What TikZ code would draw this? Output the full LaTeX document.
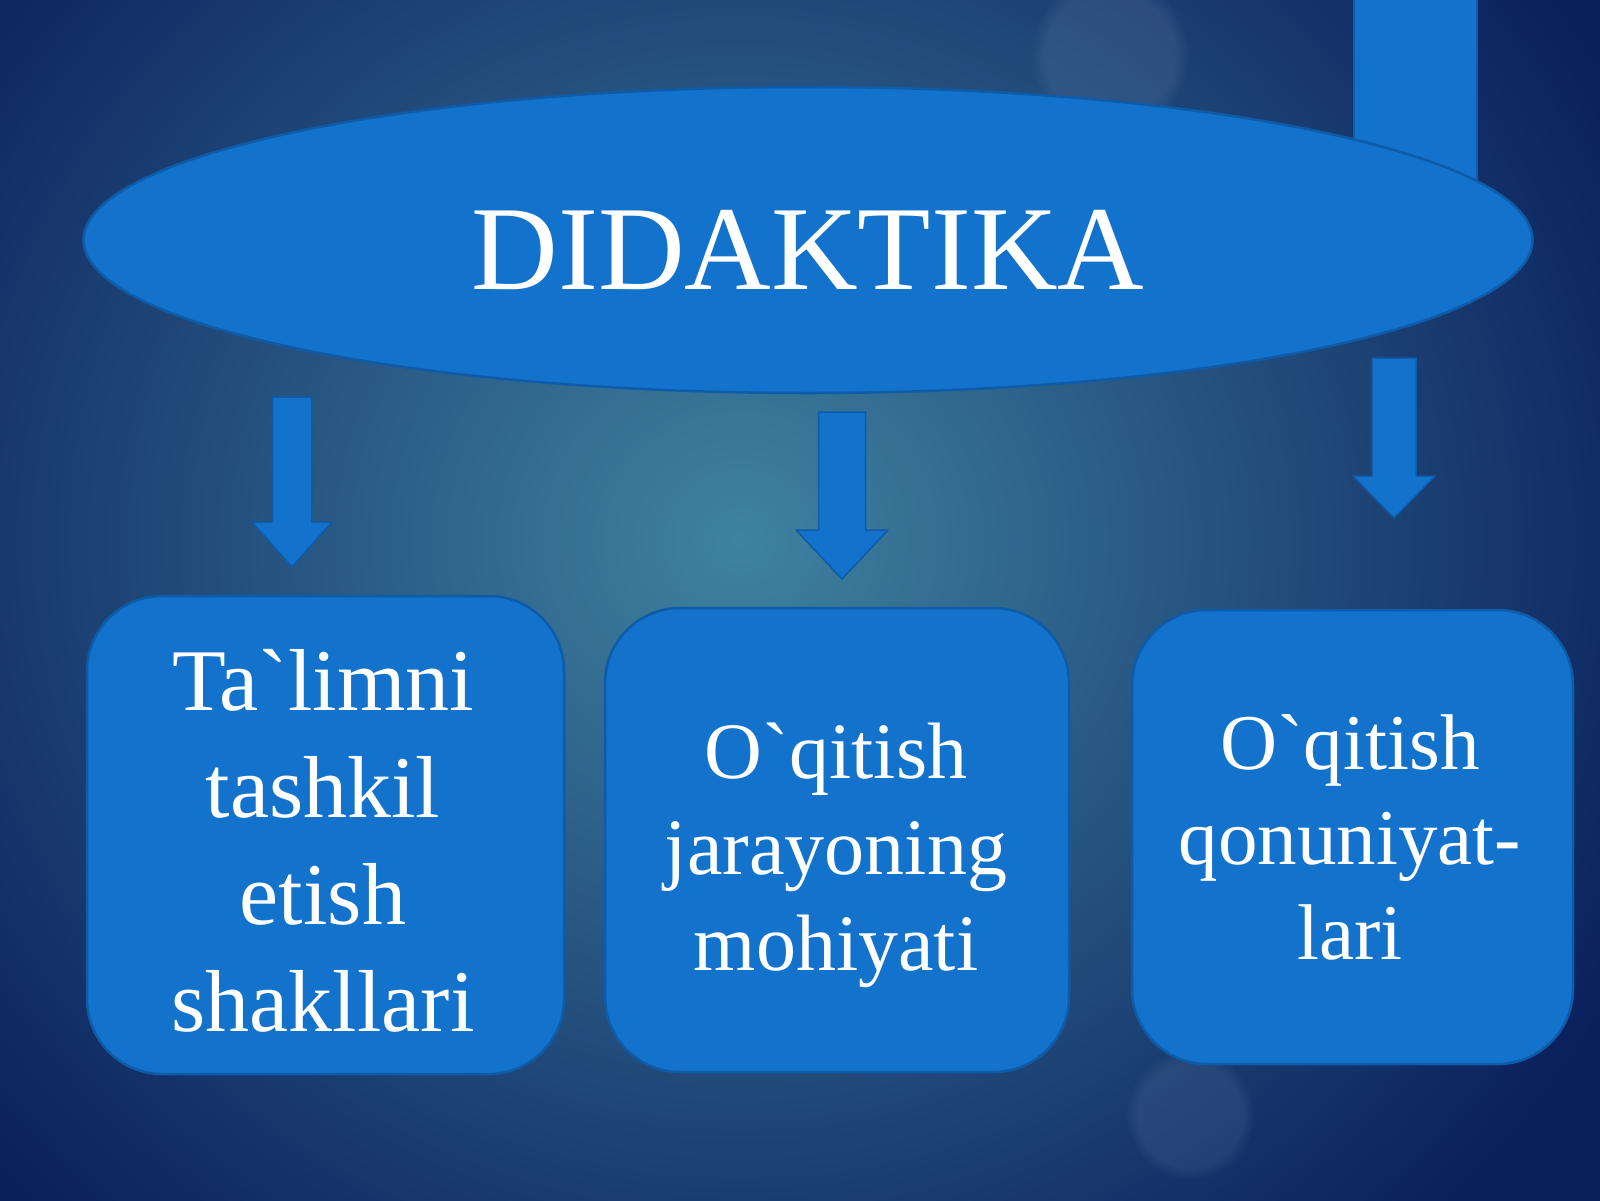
\documentclass[tikz,border=0pt]{standalone}
\usepackage{fontspec}
\setmainfont{Liberation Serif}
\usetikzlibrary{shapes.geometric,fadings}
\definecolor{navy}{HTML}{0A1F5C}
\definecolor{tealbg}{HTML}{3F82A0}
\definecolor{shapefill}{HTML}{1272CC}
\definecolor{rim}{HTML}{0E5BA8}
\definecolor{bokeh}{HTML}{6A86B0}
\newcommand\dnarrow[6]{%
  \fill[arrowstyle] (#1-#5,#2) -- (#1+#5,#2) -- (#1+#5,#3) -- (#1+#6,#3) -- (#1,#4) -- (#1-#6,#3) -- (#1-#5,#3) -- cycle;}
\begin{document}
\begin{tikzpicture}[x=1pt,y=-1pt,
  shapestyle/.style={fill=shapefill, draw=rim, line width=2.5pt},
  arrowstyle/.style={fill=shapefill, draw=rim, line width=1.5pt, line join=round},
  boxstyle/.style={shapestyle, rectangle, rounded corners=75pt, inner sep=0pt},
  txt/.style={text=white, align=center, inner sep=0pt},
]
\useasboundingbox (0,0) rectangle (1600,1200);
\fill[navy] (-20,-20) rectangle (1620,1220);
\begin{scope}
\clip (-20,-20) rectangle (1620,1220);
\shade[inner color=tealbg, outer color=navy] (740,540) ellipse (1000 and 950);
\fill[bokeh, path fading=circle with fuzzy edge 20 percent, opacity=.22] (1110,55) circle (80);
\fill[bokeh, path fading=circle with fuzzy edge 20 percent, opacity=.18] (1190,1115) circle (65);
\end{scope}
% partial arrow behind the ellipse
\fill[arrowstyle] (1354,-5) rectangle (1477,230);
% main ellipse
\node[shapestyle, ellipse, minimum width=1449pt, minimum height=306pt, inner sep=0pt] (top) at (808,240) {};
\node[txt, font=\fontsize{120}{140}\selectfont, anchor=base] (title) at (808,289) {DIDAKTIKA};
% block arrows
\dnarrow{292}{397}{522}{567}{19.5}{40}
\dnarrow{842}{412}{530}{579}{23.5}{46}
\dnarrow{1394}{358}{476}{518}{22}{41}
% boxes
\node[boxstyle, minimum width=477pt, minimum height=478pt] (b1) at (325.5,835) {};
\node[boxstyle, minimum width=464pt, minimum height=464pt] (b2) at (837,840) {};
\node[boxstyle, minimum width=441pt, minimum height=454pt] (b3) at (1352.5,837) {};
\node[txt, font=\fontsize{88}{107}\selectfont] (t1) at (323,841) {Ta\textasciigrave limni\\tashkil\\etish\\shakllari};
\node[txt, font=\fontsize{80}{96}\selectfont] (t2) at (836,855) {O\textasciigrave qitish\\jarayoning\\mohiyati};
\node[txt, font=\fontsize{79}{95}\selectfont] (t3) at (1350,837) {O\textasciigrave qitish\\qonuniyat-\\lari};
\end{tikzpicture}
\end{document}
